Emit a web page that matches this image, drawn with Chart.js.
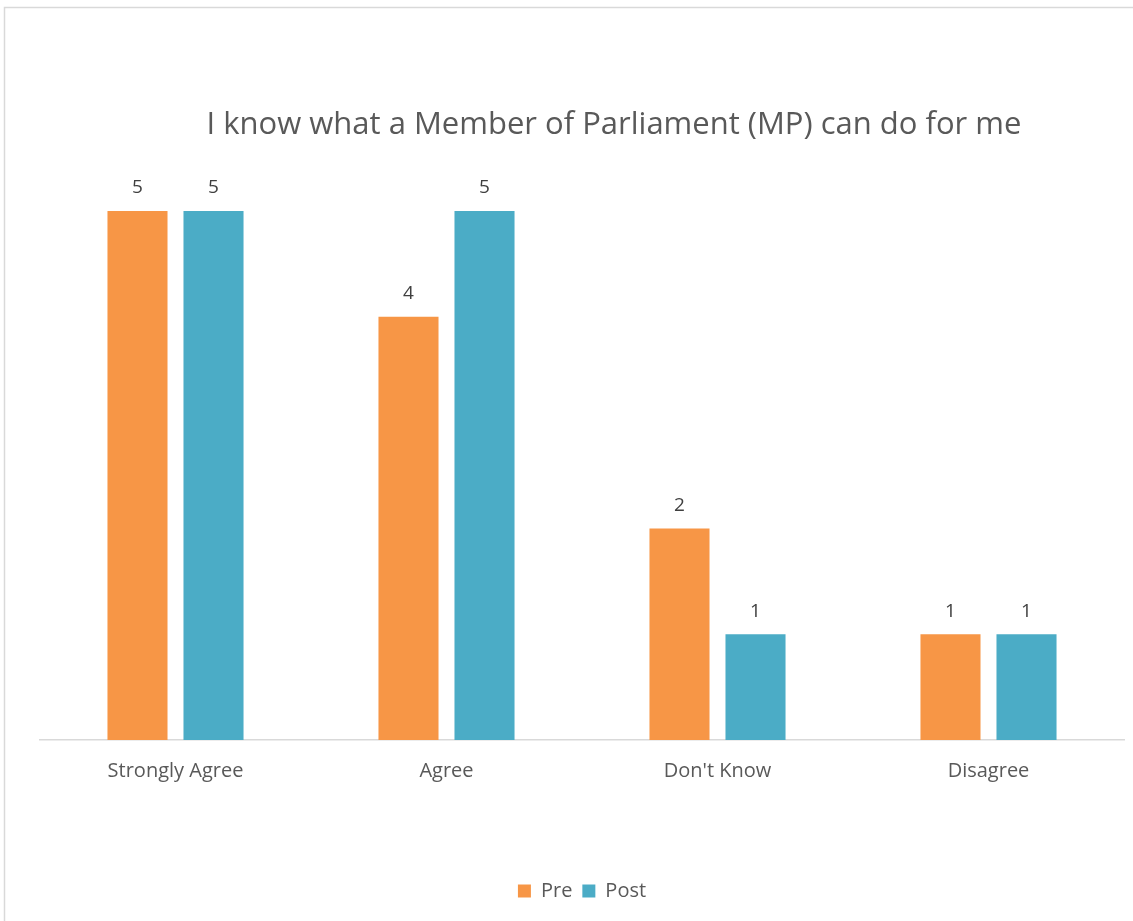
<!DOCTYPE html>
<html>
<head>
<meta charset="utf-8">
<script src="https://cdn.jsdelivr.net/npm/chart.js@4"></script>
<style>
  html, body { margin: 0; padding: 0; background: #fff; }
  #wrap { width: 1133px; height: 921px; }
</style>
</head>
<body>
<div id="wrap"><canvas id="mpChart" width="1133" height="921"></canvas></div>
<script>
// Survey answers, before and after the session.
const categories = ['Strongly Agree', 'Agree', "Don't Know", 'Disagree'];
const preCounts = [5, 4, 2, 1];
const postCounts = [5, 5, 1, 1];
const titleText = 'I know what a Member of Parliament (MP) can do for me';

const fontFamily = '"Open Sans", "Noto Sans", sans-serif';
const textColor = '#595959';

// Light frame round the whole chart plus the title text.
const framePlugin = {
  id: 'frame',
  beforeDraw(chart) {
    const ctx = chart.ctx;
    ctx.save();
    ctx.strokeStyle = '#d9d9d9';
    ctx.lineWidth = 1.5;
    ctx.strokeRect(4.5, 7.5, 1200, 1000);
    ctx.fillStyle = textColor;
    ctx.font = '31px ' + fontFamily;
    ctx.textAlign = 'center';
    ctx.textBaseline = 'middle';
    ctx.fillText(titleText, 614, 125);
    ctx.restore();
  }
};

// Count printed above each bar.
const valueLabels = {
  id: 'valueLabels',
  afterDatasetsDraw(chart) {
    const ctx = chart.ctx;
    ctx.save();
    ctx.fillStyle = '#404040';
    ctx.font = '19px ' + fontFamily;
    ctx.textAlign = 'center';
    ctx.textBaseline = 'middle';
    chart.data.datasets.forEach((dataset, i) => {
      chart.getDatasetMeta(i).data.forEach((bar, j) => {
        ctx.fillText(dataset.data[j], bar.x, bar.y - 23);
      });
    });
    ctx.restore();
  }
};

new Chart(document.getElementById('mpChart'), {
  type: 'bar',
  data: {
    labels: categories,
    datasets: [
      {
        label: 'Pre',
        data: preCounts,
        backgroundColor: '#F79646'
      },
      {
        label: 'Post',
        data: postCounts,
        backgroundColor: '#4BACC6'
      }
    ]
  },
  options: {
    responsive: false,
    animation: false,
    layout: { padding: { top: 211, left: 40, right: 9, bottom: 10 } },
    datasets: {
      bar: { categoryPercentage: 0.561, barPercentage: 0.79 }
    },
    scales: {
      x: {
        grid: { display: false },
        border: { display: true, color: '#d9d9d9', width: 1.5 },
        ticks: {
          color: textColor,
          padding: 11,
          font: { family: fontFamily, size: 20 }
        },
        afterFit(scale) { scale.height = 131; }
      },
      y: {
        display: false,
        min: 0,
        max: 5
      }
    },
    plugins: {
      title: { display: false },
      tooltip: { enabled: false },
      legend: {
        position: 'bottom',
        labels: {
          color: textColor,
          boxWidth: 13,
          boxHeight: 13,
          padding: 10,
          font: { family: fontFamily, size: 20 }
        }
      }
    }
  },
  plugins: [framePlugin, valueLabels]
});
</script>
</body>
</html>
